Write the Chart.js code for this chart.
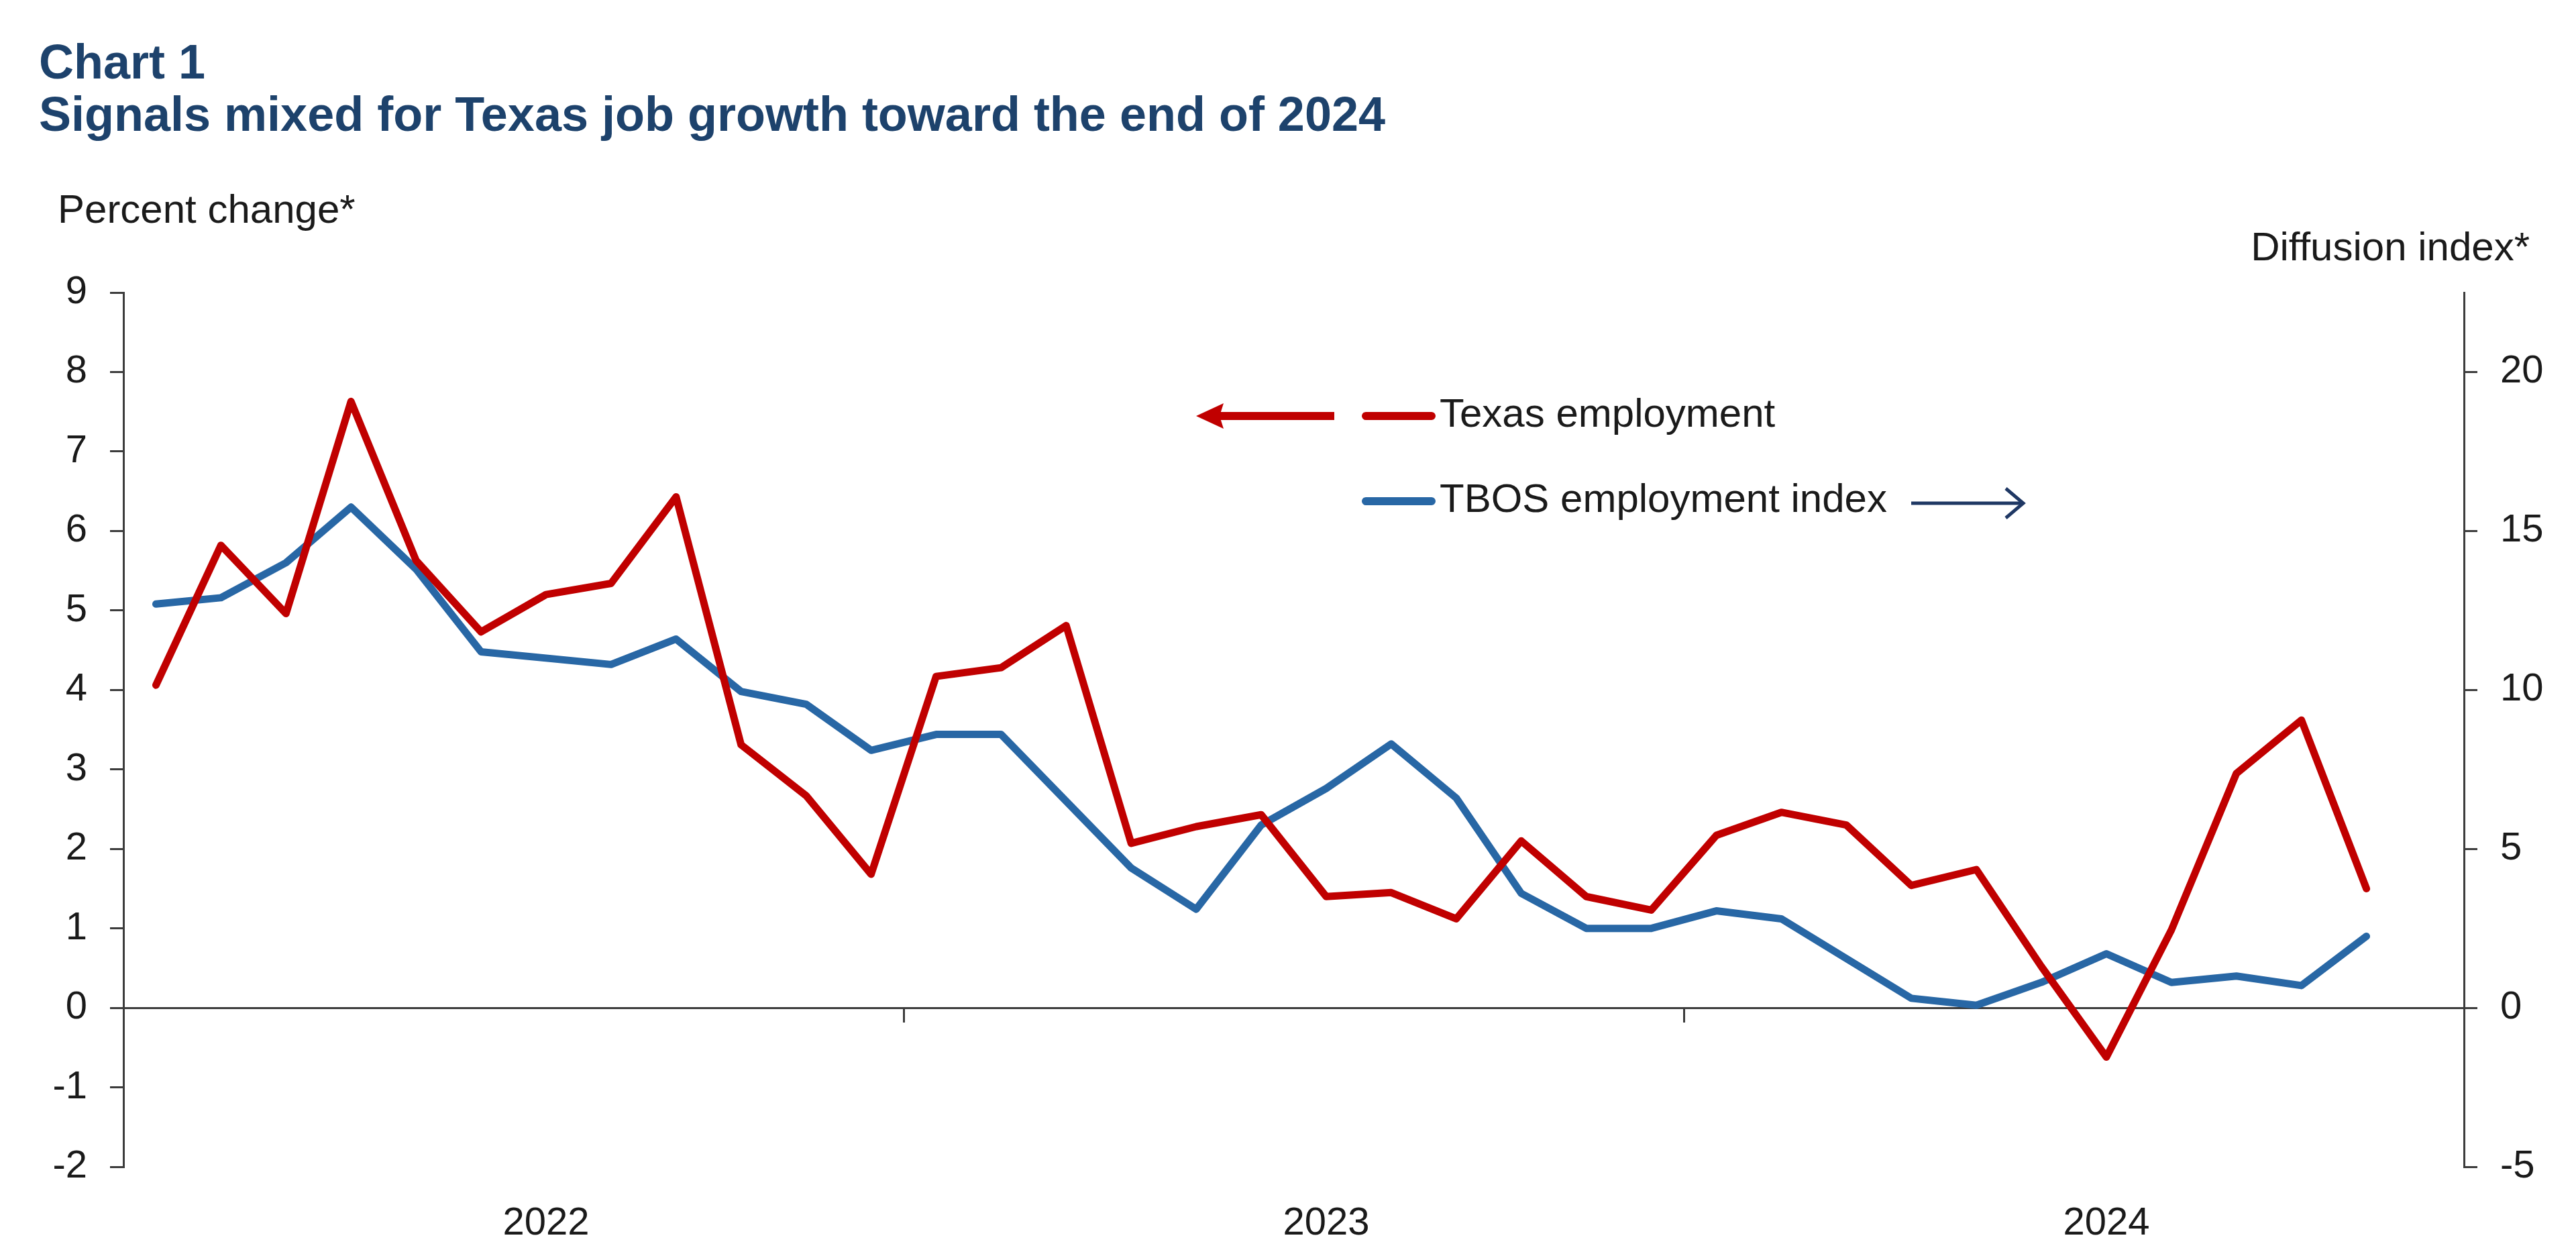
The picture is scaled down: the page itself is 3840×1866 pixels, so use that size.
<!DOCTYPE html>
<html>
<head>
<meta charset="utf-8">
<title>Chart 1</title>
<script src="https://cdn.jsdelivr.net/npm/chart.js@4/dist/chart.umd.min.js"></script>
<style>
    html, body { margin: 0; padding: 0; background: #fff; }
    #wrap { position: relative; width: 3840px; height: 1866px; overflow: hidden;
            font-family: "Liberation Sans", Arial, sans-serif; }
    #chart { position: absolute; left: 0; top: 0; }
    .txt { position: absolute; white-space: nowrap; line-height: 1; }
    .title { left: 58px; font-size: 72px; font-weight: bold; color: #1d426c; }
    .axis-title { font-size: 60px; color: #1a1a1a; }
    .legend-label { left: 2146px; font-size: 60px; color: #1a1a1a; }
    #legend-marks { position: absolute; left: 0; top: 0; }
</style>
</head>
<body>
<div id="wrap">
    <canvas id="chart" width="3840" height="1866"></canvas>

    <div class="txt title" style="top:56px">Chart 1</div>
    <div class="txt title" style="top:134px">Signals mixed for Texas job growth toward the end of 2024</div>

    <div class="txt axis-title" style="left:86px; top:282px">Percent change*</div>
    <div class="txt axis-title" style="right:69px; top:338px">Diffusion index*</div>

    <svg id="legend-marks" width="3840" height="1866" viewBox="0 0 3840 1866">
        <!-- Texas employment: arrow to left axis, then key segment -->
        <line x1="1815" y1="620" x2="1989" y2="620" stroke="#c00000" stroke-width="12"/>
        <polygon points="1783,620 1824,601 1818,620 1824,639" fill="#c00000"/>
        <line x1="2036" y1="620" x2="2134" y2="620" stroke="#c00000" stroke-width="12" stroke-linecap="round"/>
        <!-- TBOS employment index: key segment, then arrow to right axis -->
        <line x1="2036" y1="747" x2="2134" y2="747" stroke="#2867a5" stroke-width="12" stroke-linecap="round"/>
        <line x1="2849" y1="750" x2="3014" y2="750" stroke="#1f3864" stroke-width="5"/>
        <polyline points="2990,728 3016,750 2990,772" fill="none" stroke="#1f3864" stroke-width="5"/>
    </svg>
    <div class="txt legend-label" style="top:586px">Texas employment</div>
    <div class="txt legend-label" style="top:713px">TBOS employment index</div>
</div>

<script>
/* Chart 1 — Texas employment vs. TBOS employment index */

const YEARS = ["2022", "2023", "2024"];
const MONTHS = ["Jan", "Feb", "Mar", "Apr", "May", "Jun", "Jul", "Aug", "Sep", "Oct", "Nov", "Dec"];

// Texas employment, percent change* (left axis), Jan 2022 – Nov 2024
const texasEmployment = [
    4.06, 5.82, 4.96, 7.63, 5.63, 4.73, 5.20, 5.34, 6.43, 3.31, 2.67, 1.68,
    4.17, 4.28, 4.81, 2.07, 2.28, 2.43, 1.40, 1.45, 1.12, 2.10, 1.40, 1.23,
    2.17, 2.46, 2.30, 1.54, 1.74, 0.52, -0.62, 0.98, 2.95, 3.62, 1.50
];

// TBOS employment index, diffusion index* (right axis), Jan 2022 – Nov 2024
const tbosIndex = [
    12.7, 12.9, 14.0, 15.75, 13.8, 11.2, 11.0, 10.8, 11.6, 9.95, 9.55, 8.1,
    8.6, 8.6, 6.5, 4.4, 3.1, 5.75, 6.9, 8.3, 6.6, 3.6, 2.5, 2.5,
    3.05, 2.8, 1.55, 0.3, 0.08, 0.8, 1.7, 0.8, 1.0, 0.7, 2.25
];

// Axis ranges
const LEFT_AXIS = { min: -2, max: 9, step: 1 };
const RIGHT_AXIS = { min: -5, max: 22.5, step: 5 };

const monthLabels = YEARS.flatMap(y => MONTHS.map(m => `${m} ${y}`));

const AXIS_COLOR = "#3c3c3c";
const TEXT_COLOR = "#1a1a1a";
const TICK_FONT = { family: "'Liberation Sans', Arial, sans-serif", size: 58 };

new Chart(document.getElementById("chart"), {
    type: "line",
    data: {
        labels: monthLabels,
        datasets: [
            {
                label: "Texas employment",
                data: texasEmployment,
                yAxisID: "y",
                borderColor: "#c00000",
                borderWidth: 11,
                borderCapStyle: "round",
                borderJoinStyle: "round",
                pointRadius: 0,
                tension: 0,
            },
            {
                label: "TBOS employment index",
                data: tbosIndex,
                yAxisID: "y1",
                borderColor: "#2867a5",
                borderWidth: 11,
                borderCapStyle: "round",
                borderJoinStyle: "round",
                pointRadius: 0,
                tension: 0,
            }
        ]
    },
    options: {
        responsive: false,
        animation: false,
        devicePixelRatio: 1,
        layout: { padding: { top: 436, left: 0, right: 0, bottom: 0 } },
        plugins: {
            legend: { display: false },
            tooltip: { enabled: false },
        },
        scales: {
            // zero line with year-boundary tick marks
            x: {
                type: "category",
                position: { y: 0 },
                offset: true,
                grid: {
                    offset: true,
                    drawOnChartArea: false,
                    tickLength: 20,
                    lineWidth: 3,
                    color: (ctx) => (ctx.index > 0 && ctx.index % 12 === 0) ? AXIS_COLOR : "rgba(0,0,0,0)",
                },
                border: { color: AXIS_COLOR, width: 3 },
                ticks: { display: false, autoSkip: false },
            },
            // year labels along the bottom
            x2: {
                type: "category",
                position: "bottom",
                offset: true,
                grid: { display: false, drawTicks: false },
                border: { display: false },
                ticks: {
                    autoSkip: false,
                    maxRotation: 0,
                    padding: 50,
                    font: TICK_FONT,
                    color: TEXT_COLOR,
                    callback: (value, i) => (i % 12 === 6 ? YEARS[Math.floor(i / 12)] : ""),
                },
                afterFit: (scale) => { scale.height = 127; },
            },
            y: {
                position: "left",
                min: LEFT_AXIS.min,
                max: LEFT_AXIS.max,
                ticks: { stepSize: LEFT_AXIS.step, padding: 34, font: TICK_FONT, color: TEXT_COLOR },
                grid: { drawOnChartArea: false, tickLength: 20, lineWidth: 3, color: AXIS_COLOR },
                border: { color: AXIS_COLOR, width: 3 },
                afterFit: (scale) => { scale.width = 184; },
            },
            y1: {
                position: "right",
                min: RIGHT_AXIS.min,
                max: RIGHT_AXIS.max,
                ticks: { stepSize: RIGHT_AXIS.step, includeBounds: false, padding: 34, font: TICK_FONT, color: TEXT_COLOR },
                grid: { drawOnChartArea: false, tickLength: 20, lineWidth: 3, color: AXIS_COLOR },
                border: { color: AXIS_COLOR, width: 3 },
                afterFit: (scale) => { scale.width = 167; },
            }
        }
    }
});
</script>
</body>
</html>
